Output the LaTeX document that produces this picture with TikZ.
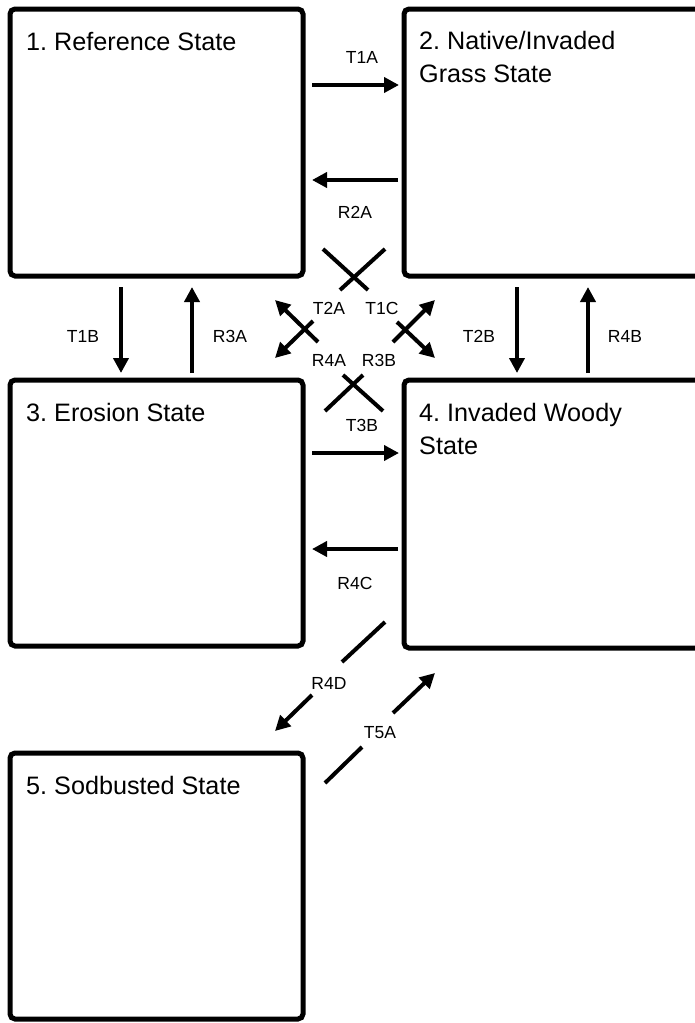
\documentclass[tikz,border=0pt]{standalone}
\usepackage{fontspec}
\setmainfont{Liberation Sans}
\usetikzlibrary{arrows.meta,calc}
\frenchspacing
\tikzset{
  statebox/.style={draw=black, line width=5pt, rounded corners=5pt, fill=white},
  title/.style={anchor=base west, align=left, inner sep=0pt, font=\fontsize{25.2}{33}\selectfont\frenchspacing},
  lab/.style={font=\fontsize{17.5}{19}\selectfont, inner sep=0pt},
  arr/.style={line width=4pt, -{Triangle[length=15pt,width=15pt]}},
  plain/.style={line width=4pt}
}
\begin{document}
\begin{tikzpicture}[x=1pt,y=-1pt]
\useasboundingbox (0,0) rectangle (695,1023);
\clip (0,0) rectangle (695,1023);
% boxes
\draw[statebox] (10,9) rectangle (303,276);
\draw[statebox] (404,9) rectangle (730,276);
\draw[statebox] (10,380) rectangle (303,646);
\draw[statebox] (404,380) rectangle (730,648);
\draw[statebox] (10,753) rectangle (303,1019);
% titles (base anchor = last line)
\node[title] (t1) at (26,50) {1. Reference State};
\node[title] (t2) at (419,82) {2. Native/Invaded\\Grass State};
\node[title] (t3) at (26,421) {3. Erosion State};
\node[title] (t4) at (419,454) {4. Invaded Woody\\State};
\node[title] (t5) at (26,794) {5. Sodbusted State};
% connector end points
\coordinate (a1s) at (312,85);  \coordinate (a1e) at (399,85);
\coordinate (a2s) at (398,180); \coordinate (a2e) at (312,180);
\coordinate (a3s) at (121,287); \coordinate (a3e) at (121,373);
\coordinate (a4s) at (192,373); \coordinate (a4e) at (192,287);
\coordinate (a5s) at (517,287); \coordinate (a5e) at (517,373);
\coordinate (a6s) at (588,373); \coordinate (a6e) at (588,287);
\coordinate (a7s) at (312,453); \coordinate (a7e) at (399,453);
\coordinate (a8s) at (398,549); \coordinate (a8e) at (312,549);
% diagonal arrows
\coordinate (d1s) at (318,342); \coordinate (d1e) at (275,300);
\coordinate (d2s) at (313,321); \coordinate (d2e) at (275,358);
\coordinate (d3s) at (393,342); \coordinate (d3e) at (435,300);
\coordinate (d4s) at (397,322); \coordinate (d4e) at (435,358);
% crosses
\coordinate (x1a) at (323,249); \coordinate (x1b) at (368,290);
\coordinate (x2a) at (385,249); \coordinate (x2b) at (340,290);
\coordinate (x3a) at (343,375); \coordinate (x3b) at (383,411);
\coordinate (x4a) at (363,375); \coordinate (x4b) at (325,411);
% lower diagonals
\coordinate (r1a) at (385,622); \coordinate (r1b) at (342,662);
\coordinate (r2a) at (312,695); \coordinate (r2b) at (275,731);
\coordinate (s1a) at (325,783); \coordinate (s1b) at (362,747);
\coordinate (s2a) at (393,713); \coordinate (s2b) at (435,673);
% draw connectors
\draw[arr] (a1s) -- (a1e);
\draw[arr] (a2s) -- (a2e);
\draw[arr] (a3s) -- (a3e);
\draw[arr] (a4s) -- (a4e);
\draw[arr] (a5s) -- (a5e);
\draw[arr] (a6s) -- (a6e);
\draw[arr] (a7s) -- (a7e);
\draw[arr] (a8s) -- (a8e);
\draw[arr] (d1s) -- (d1e);
\draw[arr] (d2s) -- (d2e);
\draw[arr] (d3s) -- (d3e);
\draw[arr] (d4s) -- (d4e);
\draw[plain] (x1a) -- (x1b);
\draw[plain] (x2a) -- (x2b);
\draw[plain] (x3a) -- (x3b);
\draw[plain] (x4a) -- (x4b);
\draw[plain] (r1a) -- (r1b);
\draw[arr] (r2a) -- (r2b);
\draw[plain] (s1a) -- (s1b);
\draw[arr] (s2a) -- (s2b);
% labels
\node[lab] (lT1A) at (362,57) {T1A};
\node[lab] (lR2A) at (355,212) {R2A};
\node[lab] (lT1B) at (83,336) {T1B};
\node[lab] (lR3A) at (230,336) {R3A};
\node[lab] (lT2B) at (479,336) {T2B};
\node[lab] (lR4B) at (625,336) {R4B};
\node[lab] (lT2A) at (329,308) {T2A};
\node[lab] (lT1C) at (382,308) {T1C};
\node[lab] (lR4A) at (329,360) {R4A};
\node[lab] (lR3B) at (379,360) {R3B};
\node[lab] (lT3B) at (362,425) {T3B};
\node[lab] (lR4C) at (355,583) {R4C};
\node[lab] (lR4D) at (329,683) {R4D};
\node[lab] (lT5A) at (380,733) {T5A};
\end{tikzpicture}
\end{document}
